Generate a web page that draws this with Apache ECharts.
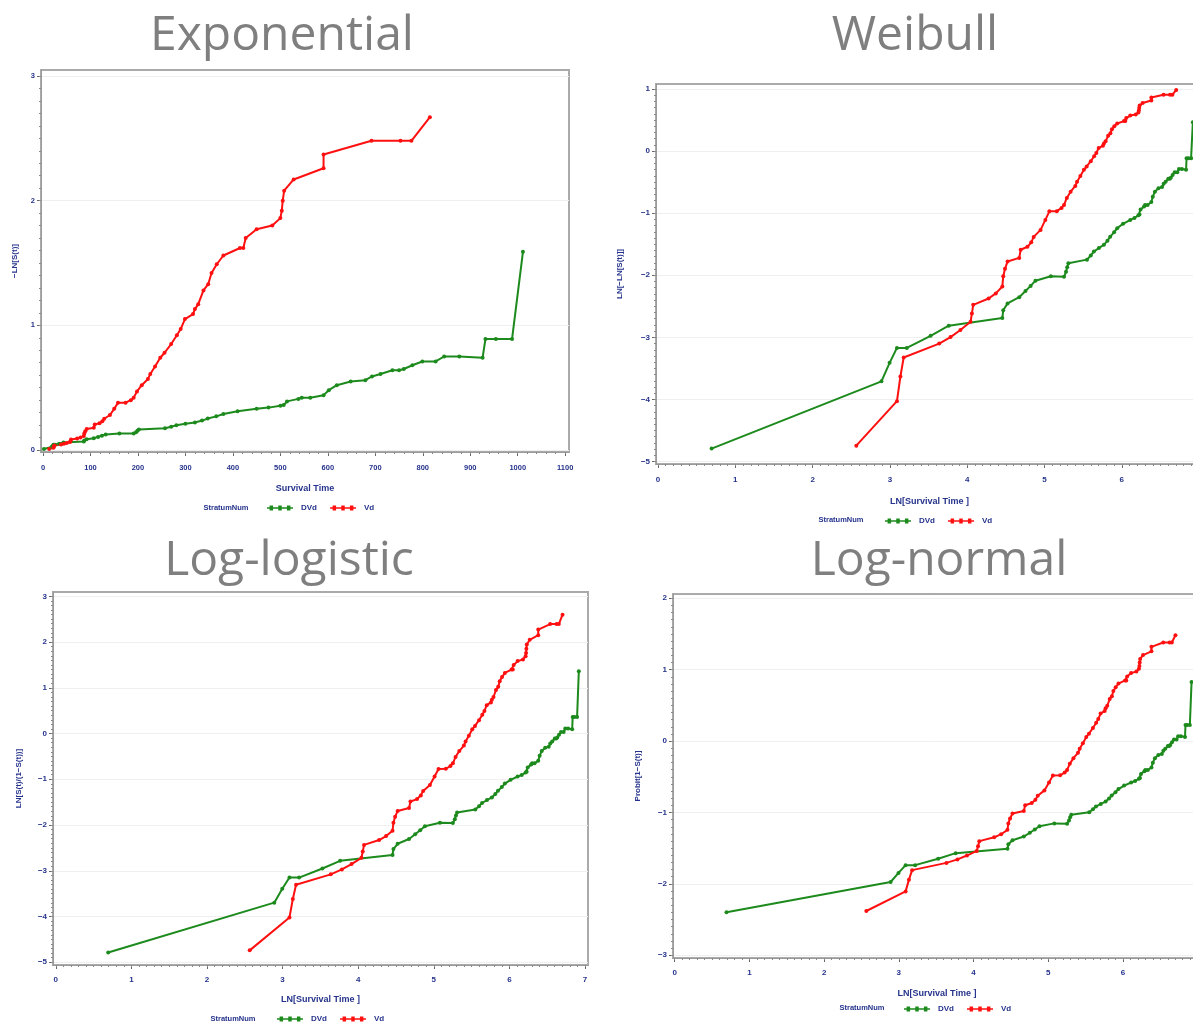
<!DOCTYPE html>
<html>
<head>
<meta charset="utf-8">
<title>Survival model diagnostic plots</title>
<script src="https://cdn.jsdelivr.net/npm/echarts@6.0.0/dist/echarts.min.js"></script>
<style>
  html, body { margin: 0; padding: 0; background: #fff; }
  #chart { width: 1193px; height: 1027px; }
</style>
</head>
<body>
<div id="chart"></div>
<script>
// Kaplan-Meier event times (days) and cumulative hazard -LN[S(t)]
var dvdTime = [2, 18, 20, 22, 25, 34, 43, 86, 87, 92, 107, 116, 124, 132, 161, 191, 196, 199, 202,
  257, 270, 281, 300, 320, 335, 347, 365, 380, 410, 450, 475, 500, 507, 514, 538, 545, 563, 591,
  602, 619, 648, 679, 693, 711, 736, 750, 760, 778, 799, 827, 845, 877, 926, 932, 954, 988, 1011];
var dvdHazard = [0.0083, 0.0245, 0.033, 0.042, 0.042, 0.051, 0.060, 0.068, 0.077, 0.086, 0.095, 0.105,
  0.114, 0.124, 0.133, 0.132, 0.143, 0.154, 0.164, 0.174, 0.186, 0.198, 0.210, 0.221, 0.236, 0.252,
  0.270, 0.289, 0.310, 0.330, 0.340, 0.355, 0.360, 0.390, 0.410, 0.420, 0.420, 0.440, 0.480, 0.520,
  0.550, 0.560, 0.590, 0.610, 0.640, 0.640, 0.650, 0.680, 0.710, 0.710, 0.750, 0.750, 0.740, 0.890,
  0.890, 0.890, 1.590];

var vdTime = [13, 22, 23, 24, 38, 44, 50, 57, 58, 59, 72, 79, 86, 87, 89, 92, 107, 109, 119, 125, 129,
  141, 150, 158, 174, 185, 191, 198, 208, 221, 226, 236, 247, 256, 270, 282, 290, 299, 316, 320, 327,
  338, 348, 355, 366, 380, 415, 422, 427, 450, 483, 500, 503, 505, 508, 528, 591, 591, 692, 753, 776, 815];
var vdHazard = [0.0087, 0.0178, 0.0265, 0.036, 0.045, 0.050, 0.056, 0.064, 0.073, 0.084, 0.093, 0.101,
  0.113, 0.133, 0.150, 0.169, 0.179, 0.204, 0.214, 0.230, 0.251, 0.281, 0.330, 0.379, 0.380, 0.400,
  0.420, 0.470, 0.520, 0.570, 0.610, 0.670, 0.740, 0.780, 0.850, 0.920, 0.970, 1.050, 1.090, 1.130,
  1.170, 1.280, 1.330, 1.420, 1.490, 1.560, 1.620, 1.620, 1.700, 1.770, 1.800, 1.860, 1.920, 2.000,
  2.080, 2.170, 2.260, 2.370, 2.480, 2.480, 2.480, 2.670];

// tick labels
var timeTicks = [0, 100, 200, 300, 400, 500, 600, 700, 800, 900, 1000, 1100];
var lnTimeTicks = [0, 1, 2, 3, 4, 5, 6, 7];
var expTicks = [0, 1, 2, 3];
var weibullTicks = [-5, -4, -3, -2, -1, 0, 1];
var logisticTicks = [-5, -4, -3, -2, -1, 0, 1, 2, 3];
var normalTicks = [-3, -2, -1, 0, 1, 2];

var panelTitles = ['Exponential', 'Weibull', 'Log-logistic', 'Log-normal'];
var groupNames = ['DVd', 'Vd'];

var navy = '#25338c';
var green = '#1c8a1c';
var red = '#ff1010';
var labelFont = '"Liberation Sans", Arial, sans-serif';

// inverse standard normal cdf (Acklam)
function probit(p) {
  var a = [-39.69683028665376, 220.9460984245205, -275.9285104469687, 138.3577518672690, -30.66479806614716, 2.506628277459239];
  var b = [-54.47609879822406, 161.5858368580409, -155.6989798598866, 66.80131188771972, -13.28068155288572];
  var c = [-7.784894002430293e-03, -3.223964580411365e-01, -2.400758277161838, -2.549732539343734, 4.374664141464968, 2.938163982698783];
  var d = [7.784695709041462e-03, 3.224671290700398e-01, 2.445134137142996, 3.754408661907416];
  var q, r;
  if (p < 0.02425) {
    q = Math.sqrt(-2 * Math.log(p));
    return (((((c[0] * q + c[1]) * q + c[2]) * q + c[3]) * q + c[4]) * q + c[5]) /
      ((((d[0] * q + d[1]) * q + d[2]) * q + d[3]) * q + 1);
  }
  if (p > 1 - 0.02425) {
    q = Math.sqrt(-2 * Math.log(1 - p));
    return -(((((c[0] * q + c[1]) * q + c[2]) * q + c[3]) * q + c[4]) * q + c[5]) /
      ((((d[0] * q + d[1]) * q + d[2]) * q + d[3]) * q + 1);
  }
  q = p - 0.5;
  r = q * q;
  return (((((a[0] * r + a[1]) * r + a[2]) * r + a[3]) * r + a[4]) * r + a[5]) * q /
    (((((b[0] * r + b[1]) * r + b[2]) * r + b[3]) * r + b[4]) * r + 1);
}

// the four transforms of the same KM estimate
var transforms = [
  function (t, h) { return [t, h]; },
  function (t, h) { return [Math.log(t), Math.log(h)]; },
  function (t, h) { return [Math.log(t), Math.log(Math.exp(h) - 1)]; },
  function (t, h) { return [Math.log(t), probit(1 - Math.exp(-h))]; }
];

function pairs(times, hazard, fn) {
  var out = [];
  for (var i = 0; i < times.length; i++) {
    out.push(fn(times[i], hazard[i]));
  }
  return out;
}

function steps(from, to, step) {
  var out = [];
  for (var v = from; v <= to + 1e-9; v += step) {
    out.push(Math.round(v * 1000) / 1000);
  }
  return out;
}

var minus = function (v) { return String(v).replace('-', '\u2212'); };

var panels = [
  { grid: { left: 41, top: 70, width: 528, height: 382 },
    x: [-4.2, 1108], y: [-0.016, 3.048], xTicks: timeTicks, yTicks: expTicks,
    xMinor: steps(0, 1100, 20), yMinor: steps(0, 3, 0.1),
    xName: 'Survival Time', yName: '\u2212LN[S(t)]', xGap: 32, yGap: 22, fs: 7.5, xMargin: 12,
    title: [282, 12], legend: [267, 504], stratum: [226, 508] },
  { grid: { left: 656, top: 84, width: 547, height: 380 },
    x: [-0.026, 7.05], y: [-5.04, 1.08], xTicks: lnTimeTicks, yTicks: weibullTicks,
    xMinor: steps(0, 7, 0.1), yMinor: steps(-5, 1, 0.1),
    xName: 'LN[Survival Time ]', yName: 'LN[\u2212LN[S(t)]]', xGap: 33, yGap: 32, fs: 8, xMargin: 12,
    title: [915, 12], legend: [885, 517], stratum: [841, 520] },
  { grid: { left: 53, top: 592, width: 535, height: 373 },
    x: [-0.037, 7.04], y: [-5.06, 3.094], xTicks: lnTimeTicks, yTicks: logisticTicks,
    xMinor: steps(0, 7, 0.1), yMinor: steps(-5, 3, 0.1),
    xName: 'LN[Survival Time ]', yName: 'LN[S(t)/(1\u2212S(t))]', xGap: 30, yGap: 30, fs: 8, xMargin: 11,
    title: [289, 537], legend: [277, 1015], stratum: [233, 1019] },
  { grid: { left: 673, top: 594, width: 528, height: 364 },
    x: [-0.023, 7.045], y: [-3.038, 2.06], xTicks: lnTimeTicks, yTicks: normalTicks,
    xMinor: steps(0, 7, 0.1), yMinor: steps(-3, 2, 0.1),
    xName: 'LN[Survival Time ]', yName: 'Probit[1\u2212S(t)]', xGap: 31, yGap: 31, fs: 8, xMargin: 11,
    title: [939, 537], legend: [904, 1005], stratum: [862, 1008] }
];

var grids = [], xAxes = [], yAxes = [], series = [], titles = [], legends = [], texts = [];

panels.forEach(function (p, i) {
  grids.push(Object.assign({
    show: true, backgroundColor: '#fff', borderColor: '#aaaaaa', borderWidth: 2,
    outerBoundsMode: 'none', containLabel: false
  }, p.grid));

  // major axis + an extra one that only carries the minor ticks
  xAxes.push({
    type: 'value', gridIndex: i, position: 'bottom', min: p.x[0], max: p.x[1],
    axisLine: { show: true, onZero: false, lineStyle: { color: '#9a9a9a', width: 1 } },
    axisTick: { show: true, customValues: p.xTicks, length: 4, lineStyle: { color: '#666' } },
    axisLabel: { customValues: p.xTicks, formatter: minus, margin: p.xMargin, color: navy,
      fontSize: p.fs, fontWeight: 'bold', fontFamily: labelFont },
    splitLine: { show: false },
    name: p.xName, nameLocation: 'middle', nameGap: p.xGap,
    nameTextStyle: { color: navy, fontSize: 9, fontWeight: 'bold', fontFamily: labelFont }
  });
  xAxes.push({
    type: 'value', gridIndex: i, position: 'bottom', min: p.x[0], max: p.x[1],
    axisLine: { show: false, onZero: false },
    axisTick: { show: true, customValues: p.xMinor, length: 2, lineStyle: { color: '#8a8a8a' } },
    axisLabel: { show: false }, splitLine: { show: false }
  });
  yAxes.push({
    type: 'value', gridIndex: i, position: 'left', min: p.y[0], max: p.y[1],
    axisLine: { show: true, onZero: false, lineStyle: { color: '#9a9a9a', width: 1 } },
    axisTick: { show: true, customValues: p.yTicks, length: 4, lineStyle: { color: '#666' } },
    axisLabel: { customValues: p.yTicks, formatter: minus, margin: 6, color: navy,
      fontSize: p.fs, fontWeight: 'bold', fontFamily: labelFont },
    splitLine: { show: true, lineStyle: { color: '#efefef', width: 1 } },
    name: p.yName, nameLocation: 'middle', nameGap: p.yGap, nameRotate: 90,
    nameTextStyle: { color: navy, fontSize: 8, fontWeight: 'bold', fontFamily: labelFont }
  });
  yAxes.push({
    type: 'value', gridIndex: i, position: 'left', min: p.y[0], max: p.y[1],
    axisLine: { show: false, onZero: false },
    axisTick: { show: true, customValues: p.yMinor, length: 2, lineStyle: { color: '#8a8a8a' } },
    axisLabel: { show: false }, splitLine: { show: false }
  });

  var fn = transforms[i];
  [[dvdTime, dvdHazard, green], [vdTime, vdHazard, red]].forEach(function (g, k) {
    series.push({
      name: groupNames[k], type: 'line', xAxisIndex: 2 * i, yAxisIndex: 2 * i,
      data: pairs(g[0], g[1], fn), color: g[2],
      symbol: 'circle', symbolSize: 4, showAllSymbol: true,
      lineStyle: { width: 2, color: g[2] }, itemStyle: { color: g[2] },
      animation: false
    });
  });

  titles.push({
    text: panelTitles[i], left: p.title[0], top: p.title[1], textAlign: 'center', padding: 0,
    textStyle: { fontSize: 48, fontWeight: 'normal', color: '#7f7f7f', fontFamily: '"Open Sans", sans-serif' }
  });

  legends.push({
    data: groupNames, left: p.legend[0], top: p.legend[1], padding: 0,
    itemWidth: 26, itemHeight: 6, itemGap: 13,
    icon: 'path://M0,4L30,4L30,6L0,6Z M3,2L7,2L7,8L3,8Z M13,2L17,2L17,8L13,8Z M23,2L27,2L27,8L23,8Z',
    selectedMode: false,
    textStyle: { color: navy, fontSize: 8, fontWeight: 'bold', fontFamily: labelFont, padding: [0, 0, 0, 3] }
  });

  texts.push({
    type: 'text', x: p.stratum[0], y: p.stratum[1],
    style: { text: 'StratumNum', fill: navy, font: 'bold 7.5px "Liberation Sans", Arial, sans-serif',
      align: 'center', verticalAlign: 'middle' }
  });
});

var myChart = echarts.init(document.getElementById('chart'), null, { renderer: 'canvas' });
var option = {
  backgroundColor: '#fff',
  animation: false,
  title: titles,
  legend: legends,
  grid: grids,
  xAxis: xAxes,
  yAxis: yAxes,
  series: series,
  graphic: texts
};
myChart.setOption(option);
</script>
</body>
</html>
